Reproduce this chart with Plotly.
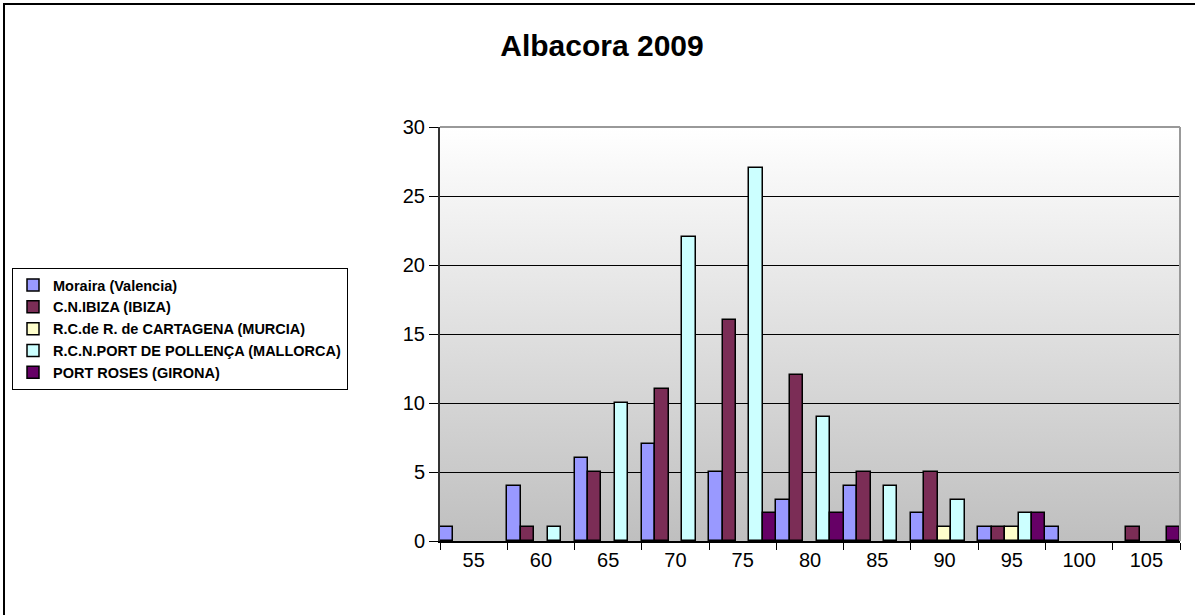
import base64
import plotly.graph_objects as go

categories = ["55", "60", "65", "70", "75", "80", "85", "90", "95", "100", "105"]
series_names = [
    "Moraira (Valencia)",
    "C.N.IBIZA (IBIZA)",
    "R.C.de R. de CARTAGENA (MURCIA)",
    "R.C.N.PORT DE POLLENÇA (MALLORCA)",
    "PORT ROSES (GIRONA)",
]
moraira = [1, 4, 6, 7, 5, 3, 4, 2, 1, 1, 0]
ibiza = [0, 1, 5, 11, 16, 12, 5, 5, 1, 0, 1]
cartagena = [0, 0, 0, 0, 0, 0, 0, 1, 1, 0, 0]
pollenca = [0, 1, 10, 22, 27, 9, 4, 3, 2, 0, 0]
roses = [0, 0, 0, 0, 2, 2, 0, 0, 2, 0, 1]
y_ticks = [0, 5, 10, 15, 20, 25, 30]

series_values = [moraira, ibiza, cartagena, pollenca, roses]
colors = ["#9999ff", "#7b2d56", "#ffffcc", "#ccffff", "#660066"]

FONT = "Liberation Sans, Arial, sans-serif"

fig = go.Figure()
for name, vals, col in zip(series_names, series_values, colors):
    fig.add_trace(go.Bar(
        name=name, x=categories, y=[v if v else None for v in vals],
        marker=dict(color=col, line=dict(color="#000000", width=1.5)),
    ))

# gradient background for plot area
svg = ('<svg xmlns="http://www.w3.org/2000/svg" width="100" height="100" preserveAspectRatio="none">'
       '<defs><linearGradient id="g" x1="0" y1="0" x2="0" y2="1">'
       '<stop offset="0" stop-color="#ffffff"/><stop offset="1" stop-color="#bfbfbf"/>'
       '</linearGradient></defs><rect width="100" height="100" fill="url(#g)"/></svg>')
src = "data:image/svg+xml;base64," + base64.b64encode(svg.encode()).decode()

L, R, T, B = 440, 15, 127, 74
W, H = 1195, 615
pw, ph = W - L - R, H - T - B

def px(x):
    return (x - L) / pw

def py(y):
    return (H - B - y) / ph

fig.update_layout(
    width=W, height=H,
    margin=dict(l=L, r=R, t=T, b=B),
    paper_bgcolor="#ffffff",
    plot_bgcolor="rgba(0,0,0,0)",
    barmode="group", bargap=0, bargroupgap=0,
    font=dict(family=FONT, color="#000000"),
    title=dict(text="<b>Albacora 2009</b>", x=602 / W, xanchor="center",
               y=1 - 45 / H, yanchor="middle", yref="container",
               font=dict(size=30, family=FONT, color="#000000")),
    images=[dict(source=src, xref="paper", yref="paper", x=0, y=1, sizex=1, sizey=1,
                 sizing="stretch", layer="below", xanchor="left", yanchor="top")],
    legend=dict(x=px(12), y=py(268), xanchor="left", yanchor="top",
                bgcolor="#ffffff", bordercolor="#000000", borderwidth=1,
                font=dict(size=14.5, family=FONT, color="#000000", weight="bold"),
                itemwidth=30, tracegroupgap=0),
    showlegend=True,
    xaxis=dict(type="category", showgrid=False, showline=True, linecolor="#000000",
               linewidth=1.5, ticks="outside", tickson="boundaries", ticklen=7,
               tickcolor="#000000", tickfont=dict(size=20, family=FONT)),
    yaxis=dict(range=[0, 30], tickvals=y_ticks, showgrid=True, gridcolor="#000000",
               gridwidth=1, showline=True, linecolor="#333333", linewidth=2,
               ticks="outside", ticklen=9, tickcolor="#000000", zeroline=False,
               tickfont=dict(size=20, family=FONT)),
    shapes=[
        # plot-area top and right border
        dict(type="line", xref="paper", yref="paper", x0=0, x1=1, y0=1, y1=1,
             line=dict(color="#999999", width=2), layer="above"),
        dict(type="line", xref="paper", yref="paper", x0=1, x1=1, y0=0, y1=1,
             line=dict(color="#999999", width=2), layer="above"),
        # outer chart border
        dict(type="rect", xref="paper", yref="paper", x0=px(4), x1=px(1205),
             y0=py(625), y1=py(4), line=dict(color="#000000", width=2),
             fillcolor="rgba(0,0,0,0)", layer="above"),
    ],
)

fig.write_html("out.html", config={"displayModeBar": False},
               post_script="document.body.style.margin='0';")
